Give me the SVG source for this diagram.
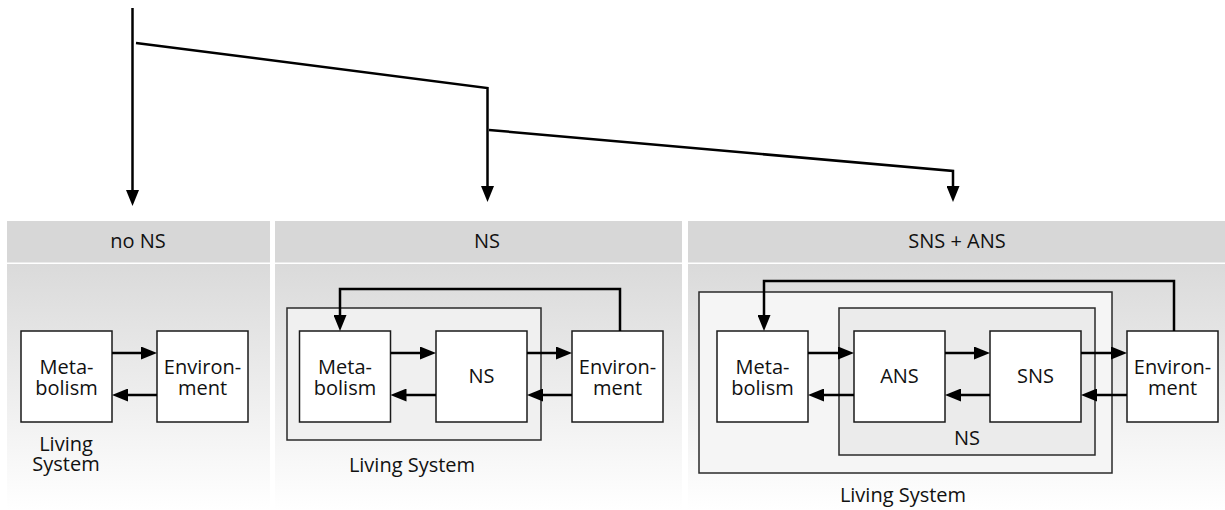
<svg xmlns="http://www.w3.org/2000/svg" width="1225" height="510" viewBox="0 0 1225 510">
  <defs>
    <linearGradient id="bodyFade" x1="0" y1="0" x2="0" y2="1">
      <stop offset="0" stop-color="#dadada"/>
      <stop offset="1" stop-color="#ffffff"/>
    </linearGradient>
    <marker id="ah" markerUnits="userSpaceOnUse" markerWidth="16" markerHeight="13" viewBox="0 0 16 13" refX="4" refY="6.5" orient="auto">
      <path d="M0,0 L16,6.5 L0,13 z" fill="#000"/>
    </marker>
  </defs>
  <style>
    .hdr { fill: #d7d7d7; }
    .body { fill: url(#bodyFade); }
    .box { fill: #ffffff; stroke: #1a1a1a; stroke-width: 1.5; }
    .sys { fill: #f0f0f0; stroke: #2a2a2a; stroke-width: 1.5; }
    .sys3 { fill: #f5f5f5; stroke: #2a2a2a; stroke-width: 1.5; }
    .ns3 { fill: #ebebeb; stroke: #2a2a2a; stroke-width: 1.5; }
    .t { font-family: "Open Sans", "Liberation Sans", sans-serif; font-size: 20px; fill: #111; text-anchor: middle; }
    .wire { fill: none; stroke: #000; stroke-width: 2.5; marker-end: url(#ah); }
  </style>

  <!-- panel backgrounds -->
  <g id="panel-noNS">
    <rect class="hdr" x="7" y="221" width="263" height="41.5"/>
    <rect class="body" x="7" y="264" width="263" height="246"/>
    <text class="t" x="138" y="248">no NS</text>
  </g>
  <g id="panel-NS">
    <rect class="hdr" x="275" y="221" width="407" height="41.5"/>
    <rect class="body" x="275" y="264" width="407" height="246"/>
    <text class="t" x="487" y="248">NS</text>
  </g>
  <g id="panel-SNS-ANS">
    <rect class="hdr" x="688" y="221" width="537" height="41.5"/>
    <rect class="body" x="688" y="264" width="537" height="246"/>
    <text class="t" x="957" y="248">SNS + ANS</text>
  </g>

  <!-- panel 1: no nervous system -->
  <g id="p1-metabolism">
    <rect class="box" x="21" y="331" width="91" height="91"/>
    <text class="t" x="66.5" y="374">Meta-</text>
    <text class="t" x="66.5" y="395">bolism</text>
  </g>
  <g id="p1-environment">
    <rect class="box" x="157" y="331" width="91" height="91"/>
    <text class="t" x="202.5" y="374">Environ-</text>
    <text class="t" x="202.5" y="395">ment</text>
  </g>
  <g id="p1-living-label">
    <text class="t" x="66" y="451">Living</text>
    <text class="t" x="66" y="471">System</text>
  </g>

  <!-- panel 2: nervous system -->
  <g id="p2-living-system">
    <rect class="sys" x="287" y="308" width="254" height="132"/>
    <text class="t" x="412" y="472">Living System</text>
  </g>
  <g id="p2-metabolism">
    <rect class="box" x="299.5" y="331" width="91" height="91"/>
    <text class="t" x="345" y="374">Meta-</text>
    <text class="t" x="345" y="395">bolism</text>
  </g>
  <g id="p2-ns">
    <rect class="box" x="436" y="331" width="91" height="91"/>
    <text class="t" x="481.5" y="383">NS</text>
  </g>
  <g id="p2-environment">
    <rect class="box" x="572" y="331" width="91" height="91"/>
    <text class="t" x="617.5" y="374">Environ-</text>
    <text class="t" x="617.5" y="395">ment</text>
  </g>

  <!-- panel 3: somatic + autonomic nervous system -->
  <g id="p3-living-system">
    <rect class="sys3" x="699" y="292" width="413" height="181"/>
    <text class="t" x="903" y="502">Living System</text>
  </g>
  <g id="p3-ns">
    <rect class="ns3" x="839" y="308" width="256" height="147"/>
    <text class="t" x="967" y="445">NS</text>
  </g>
  <g id="p3-metabolism">
    <rect class="box" x="717" y="331" width="91" height="91"/>
    <text class="t" x="762.5" y="374">Meta-</text>
    <text class="t" x="762.5" y="395">bolism</text>
  </g>
  <g id="p3-ans">
    <rect class="box" x="854" y="331" width="91" height="91"/>
    <text class="t" x="899.5" y="383">ANS</text>
  </g>
  <g id="p3-sns">
    <rect class="box" x="990" y="331" width="91" height="91"/>
    <text class="t" x="1035.5" y="383">SNS</text>
  </g>
  <g id="p3-environment">
    <rect class="box" x="1127" y="331" width="91" height="91"/>
    <text class="t" x="1172.5" y="374">Environ-</text>
    <text class="t" x="1172.5" y="395">ment</text>
  </g>

  <!-- connectors -->
  <g id="connectors">
    <!-- evolutionary branching -->
    <path class="wire" d="M132.5,8 V194"/>
    <path class="wire" d="M136,43 L487.5,88 V190"/>
    <path class="wire" d="M489,130 L953,171 V190"/>

    <!-- panel 1 -->
    <path class="wire" d="M112,353 H145"/>
    <path class="wire" d="M157,395 H124"/>

    <!-- panel 2 -->
    <path class="wire" d="M390.5,353 H424"/>
    <path class="wire" d="M436,395 H402.5"/>
    <path class="wire" d="M527,353 H560"/>
    <path class="wire" d="M572,395 H539"/>
    <path class="wire" d="M620,331 V289 H340 V319"/>

    <!-- panel 3 -->
    <path class="wire" d="M808,353 H842"/>
    <path class="wire" d="M854,395 H820"/>
    <path class="wire" d="M945,353 H978"/>
    <path class="wire" d="M990,395 H957"/>
    <path class="wire" d="M1081,353 H1115"/>
    <path class="wire" d="M1127,395 H1093"/>
    <path class="wire" d="M1174,331 V281 H764 V319"/>
  </g>
</svg>
